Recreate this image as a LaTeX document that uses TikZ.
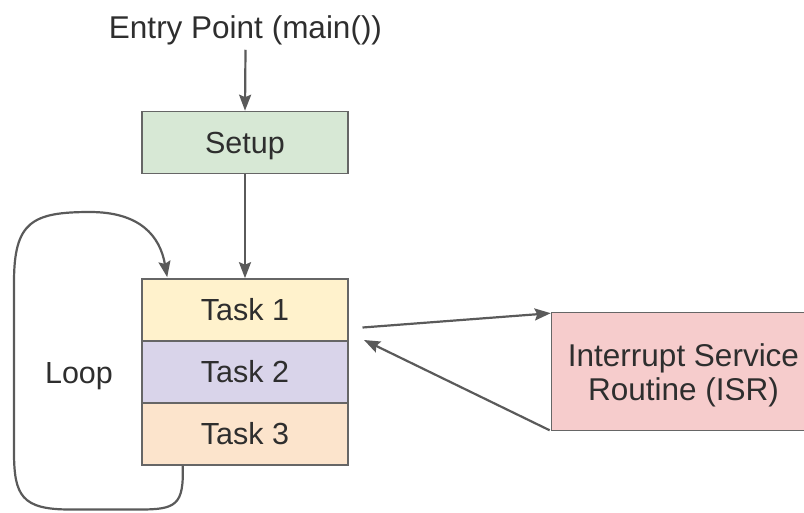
\documentclass[tikz,border=0pt]{standalone}
\usepackage{fontspec}
\setmainfont{Liberation Sans}
\usetikzlibrary{arrows.meta,calc}

\definecolor{ink}{HTML}{2E2E2E}
\definecolor{edge}{HTML}{666666}
\definecolor{wire}{HTML}{5A5A5A}
\definecolor{setupfill}{HTML}{D7E8D5}
\definecolor{taskone}{HTML}{FFF2CC}
\definecolor{tasktwo}{HTML}{D9D4EA}
\definecolor{taskthree}{HTML}{FCE4CC}
\definecolor{isrfill}{HTML}{F6CCCC}

\begin{document}
\begin{tikzpicture}[x=1pt,y=-1pt,
  txt/.style={text=ink,font=\fontsize{30.5}{34}\selectfont},
  block/.style={txt,draw=edge,line width=1.6pt,minimum width=206pt,
    minimum height=62pt,inner sep=0pt,text height=21.8pt,text depth=0pt},
  flow/.style={draw=wire,line width=2.2pt,
    -{Stealth[length=16pt,width=12pt,inset=2.5pt]}}]
\useasboundingbox (0,0) rectangle (804,512);

% entry label
\node[txt,font=\fontsize{31.5}{34}\selectfont,inner sep=4.5pt,
  text height=22.5pt,text depth=6.6pt] (entry) at (245.5,30.5) {Entry Point (main())};

% setup and the three task slots
\node[block,fill=setupfill] (setup) at (245,142.5) {Setup};
\node[block,fill=taskone]   (t1) at (245,310) {Task 1};
\node[block,fill=tasktwo]   (t2) at (245,372) {Task 2};
\node[block,fill=taskthree] (t3) at (245,434) {Task 3};

% interrupt service routine box, running past the right edge
\begin{scope}
\clip (0,0) rectangle (804,512);
\node[draw=edge,fill=isrfill,line width=1.6pt,minimum width=264pt,
  minimum height=118pt,inner sep=0pt] (isr) at (683.5,371.5) {};
\node[txt,inner sep=0pt,align=center,
  font=\fontsize{31.5}{34}\selectfont] (isrtext) at (683.5,375.5)
  {Interrupt Service\\Routine (ISR)};
\end{scope}

\node[txt,inner sep=0pt] (loop) at (79,376) {Loop};

% main flow
\draw[flow] (entry.south) -- (setup.north);
\draw[flow] (setup.south) -- (t1.north);

% interrupt in and return
\coordinate (irqout) at (362.5,327.5);
\coordinate (irqback) at (364,340);
\draw[flow] (irqout) -- ($(isr.north west)+(0,1.5)$);
\draw[flow] ($(isr.south west)+(-1,-1)$) -- (irqback);

% loop back from the last task to the first
\coordinate (loopstart) at ($(t3.south west)+(41.5,0)$);
\coordinate (loopend) at ($(t1.north west)+(26,-1)$);
\draw[flow] (loopstart)
  .. controls (184,505) and (176,509.5) .. (140,509.5)
  -- (70,509.5)
  .. controls (22,509.5) and (14,496) .. (14,452)
  -- (14,282)
  .. controls (14,222) and (32,212) .. (90,212)
  .. controls (140,212) and (160,236) .. (loopend);
\end{tikzpicture}
\end{document}
